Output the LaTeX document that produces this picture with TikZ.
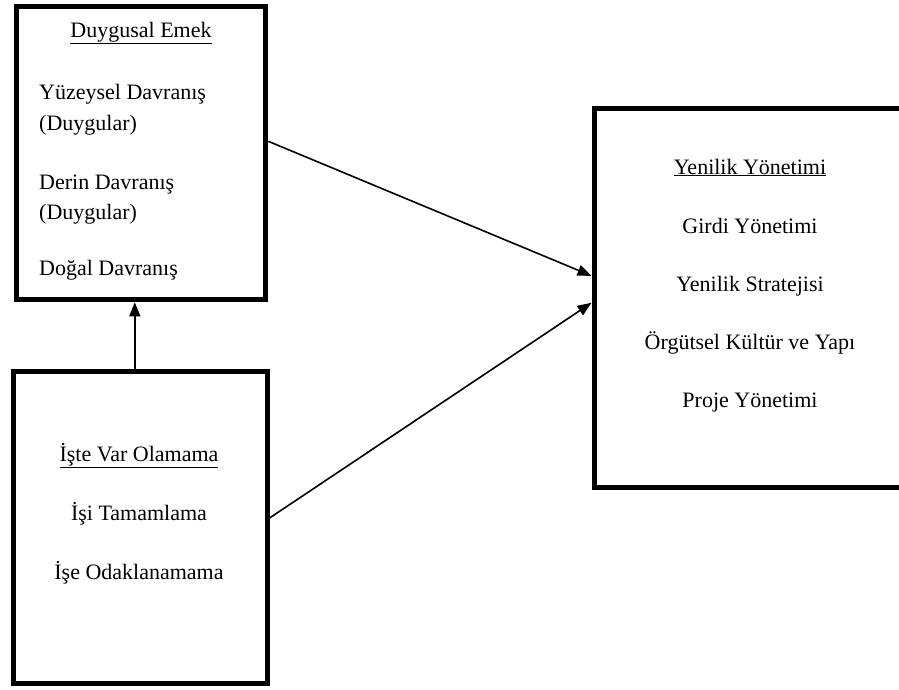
\documentclass[tikz,border=0pt]{standalone}
\usepackage{fontspec}
\setmainfont{Liberation Serif}
\usetikzlibrary{arrows.meta}
\begin{document}
\begin{tikzpicture}[x=1pt,y=-1pt,
  box/.style={draw, line width=5pt, rectangle, inner sep=0pt},
  lbl/.style={inner sep=0pt, anchor=base, font=\fontsize{22}{26}\selectfont},
  lbll/.style={lbl, anchor=base west},
  link/.style={line width=1.6pt, -{Triangle[length=14pt,width=11pt]}}]
\useasboundingbox (0,0) rectangle (899,689);
\clip (0,0) rectangle (899,689);

% boxes
\node[box, minimum width=249pt, minimum height=293pt] (emek) at (141.3,153.3) {};
\node[box, minimum width=253.5pt, minimum height=312pt] (varol) at (140.3,527.5) {};
\node[box, minimum width=320pt, minimum height=379pt] (yenilik) at (754,297.8) {};

% Duygusal Emek
\node[lbl] (t1) at (141,37) {\underline{Duygusal Emek}};
\node[lbll] (t2) at (39,99) {Yüzeysel Davranış};
\node[lbll] (t3) at (39,130) {(Duygular)};
\node[lbll] (t4) at (39,189) {Derin Davranış};
\node[lbll] (t5) at (39,219) {(Duygular)};
\node[lbll] (t6) at (39,275) {Doğal Davranış};

% İşte Var Olamama
\node[lbl] (u1) at (139,461) {\underline{İşte Var Olamama}};
\node[lbl] (u2) at (139,520) {İşi Tamamlama};
\node[lbl] (u3) at (139,579) {İşe Odaklanamama};

% Yenilik Yönetimi
\node[lbl] (v1) at (750,174) {\underline{Yenilik Yönetimi}};
\node[lbl] (v2) at (750,233) {Girdi Yönetimi};
\node[lbl] (v3) at (750,291) {Yenilik Stratejisi};
\node[lbl] (v4) at (750,349) {Örgütsel Kültür ve Yapı};
\node[lbl] (v5) at (750,407) {Proje Yönetimi};

% relations
\draw[link] ([yshift=12pt]emek.east) -- ([yshift=22pt]yenilik.west);
\draw[link] ([yshift=9.5pt]varol.east) -- ([yshift=-5pt]yenilik.west);
\draw[link] ([xshift=-5.5pt]varol.north) -- ([xshift=-5.5pt]varol.north |- emek.south);
\end{tikzpicture}
\end{document}
